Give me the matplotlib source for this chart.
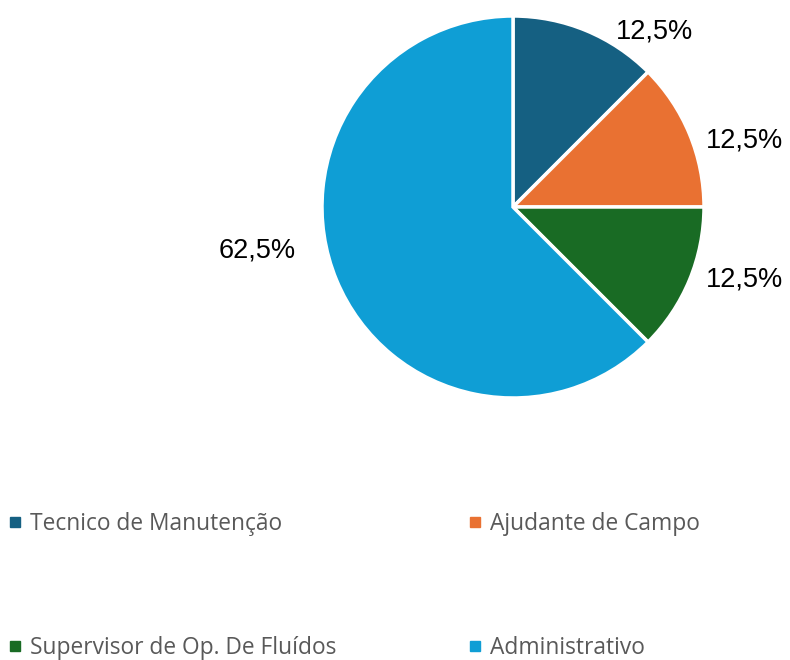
import numpy as np
import matplotlib
matplotlib.use("Agg")
import matplotlib.pyplot as plt
from matplotlib.lines import Line2D

# data
categories = ["Tecnico de Manutenção", "Ajudante de Campo",
              "Supervisor de Op. De Fluídos", "Administrativo"]
shares = [12.5, 12.5, 12.5, 62.5]
pct_labels = ["12,5%", "12,5%", "12,5%", "62,5%"]
colors = ["#156082", "#E97132", "#196B24", "#0F9ED5"]

# where Excel put the labels (pie radius = 1)
label_xy = [(0.74, 0.92), (1.21, 0.35), (1.21, -0.38), (-1.34, -0.23)]

fig = plt.figure(figsize=(7.9, 6.6), dpi=100)
ax = fig.add_axes([322/790, 262/660, 382/790, 382/660])

wedges, _ = ax.pie(shares, colors=colors, startangle=90, counterclock=False,
                   radius=1, wedgeprops=dict(edgecolor="white", linewidth=2.5))
ax.set_xlim(-1, 1)
ax.set_ylim(-1, 1)
ax.set_aspect("equal")
ax.axis("off")

for (x, y), txt in zip(label_xy, pct_labels):
    ax.text(x, y, txt, ha="center", va="center", fontsize=19.5,
            family="Liberation Sans", color="black")

# legend, row by row like the original
order = [0, 2, 1, 3]
handles = [Line2D([], [], marker="s", linestyle="none", markersize=7,
                  markerfacecolor=colors[i], markeredgecolor=colors[i]) for i in order]
labels = [categories[i] for i in order]
leg = fig.legend(handles, labels, ncol=2, loc="upper left",
                 bbox_to_anchor=(0.0, 1 - 503/660), frameon=False,
                 prop=dict(family="Open Sans", size=16.4), labelcolor="#595959",
                 handlelength=0.5, handletextpad=0.4, columnspacing=5.87,
                 labelspacing=4.38, borderaxespad=0)

fig.savefig("out.png", dpi=100)
